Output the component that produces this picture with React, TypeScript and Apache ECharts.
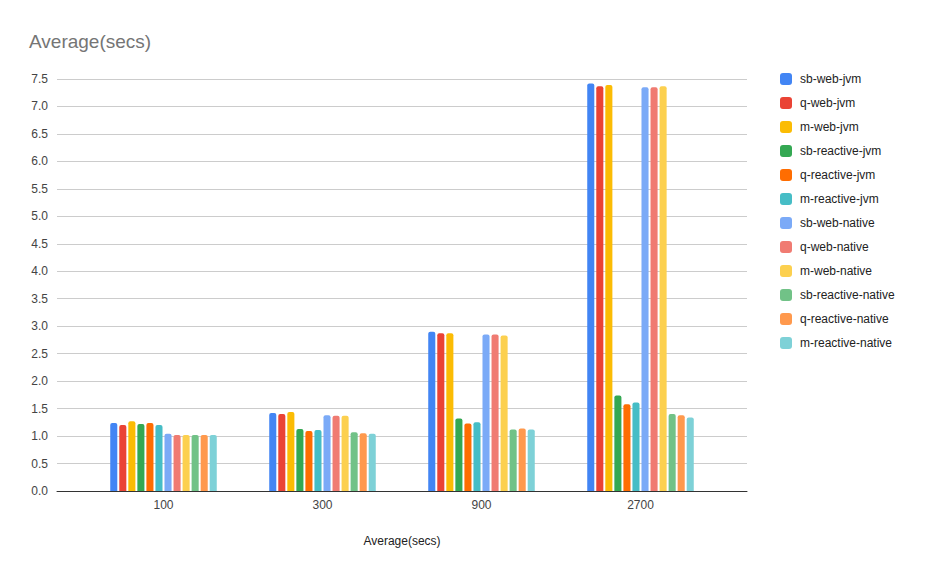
import React, { useEffect, useRef } from "react";
import * as echarts from "echarts";

const categories = ["100", "300", "900", "2700"];
const seriesNames = [
  "sb-web-jvm", "q-web-jvm", "m-web-jvm",
  "sb-reactive-jvm", "q-reactive-jvm", "m-reactive-jvm",
  "sb-web-native", "q-web-native", "m-web-native",
  "sb-reactive-native", "q-reactive-native", "m-reactive-native",
];
const colors = [
  "#4285F4", "#EA4335", "#FBBC04", "#34A853", "#FF6D01", "#46BDC6",
  "#7BAAF7", "#F07B72", "#FCD04F", "#71C287", "#FF994D", "#7ED1D7",
];
const sbWebJvm = [1.24, 1.42, 2.9, 7.42];
const qWebJvm = [1.2, 1.4, 2.87, 7.37];
const mWebJvm = [1.27, 1.44, 2.87, 7.39];
const sbReactiveJvm = [1.22, 1.13, 1.32, 1.74];
const qReactiveJvm = [1.24, 1.09, 1.23, 1.58];
const mReactiveJvm = [1.2, 1.11, 1.25, 1.61];
const sbWebNative = [1.04, 1.38, 2.85, 7.35];
const qWebNative = [1.02, 1.37, 2.85, 7.35];
const mWebNative = [1.02, 1.37, 2.83, 7.37];
const sbReactiveNative = [1.02, 1.07, 1.12, 1.4];
const qReactiveNative = [1.02, 1.05, 1.14, 1.38];
const mReactiveNative = [1.02, 1.04, 1.12, 1.34];
const seriesValues = [
  sbWebJvm, qWebJvm, mWebJvm, sbReactiveJvm, qReactiveJvm, mReactiveJvm,
  sbWebNative, qWebNative, mWebNative, sbReactiveNative, qReactiveNative, mReactiveNative,
];

const FONT = "Arial, 'Liberation Sans', sans-serif";

export default function App() {
  const ref = useRef<HTMLDivElement>(null);
  useEffect(() => {
    if (!ref.current) return;
    const chart = echarts.init(ref.current, null, { renderer: "svg" });
    chart.setOption({
      animation: false,
      backgroundColor: "#ffffff",
      color: colors,
      title: {
        text: "Average(secs)",
        left: 24,
        top: 27,
        textStyle: { fontFamily: FONT, fontSize: 19, fontWeight: "normal", color: "#757575" },
      },
      legend: {
        orient: "vertical",
        left: 775,
        top: 68,
        itemWidth: 12,
        itemHeight: 12,
        itemGap: 12,
        icon: "roundRect",
        textStyle: { fontFamily: FONT, fontSize: 12, color: "#222222", padding: [0, 0, 0, 3] },
        data: seriesNames,
      },
      grid: [
        { left: 57, right: 178, top: 79, bottom: 81, containLabel: false },
        { left: 84, right: 205, top: 79, bottom: 81, containLabel: false },
      ],
      xAxis: [
        {
          gridIndex: 0,
          type: "value",
          min: 0,
          max: 1,
          name: "Average(secs)",
          nameLocation: "middle",
          nameGap: 44,
          nameTextStyle: { fontFamily: FONT, fontSize: 12, color: "#222222" },
          axisTick: { show: false },
          axisLabel: { show: false },
          splitLine: { show: false },
          axisLine: { show: true, onZero: false, lineStyle: { color: "#333333", width: 1 } },
        },
        {
          gridIndex: 1,
          type: "category",
          data: categories,
          axisTick: { show: false },
          axisLine: { show: false },
          axisLabel: { fontFamily: FONT, fontSize: 12, color: "#444444", margin: 8 },
        },
      ],
      yAxis: [
        {
          gridIndex: 0,
          type: "value",
          min: 0,
          max: 7.5,
          interval: 0.5,
          axisLine: { show: false },
          axisTick: { show: false },
          splitLine: { lineStyle: { color: "#cccccc", width: 1 } },
          axisLabel: {
            fontFamily: FONT,
            fontSize: 12,
            color: "#444444",
            margin: 9,
            formatter: (v: number) => v.toFixed(1),
          },
        },
        {
          gridIndex: 1,
          type: "value",
          min: 0,
          max: 7.5,
          interval: 0.5,
          show: false,
          splitLine: { show: false },
        },
      ],
      series: seriesNames.map((name, i) => ({
        name,
        type: "bar",
        xAxisIndex: 1,
        yAxisIndex: 1,
        data: seriesValues[i],
        barGap: "28%",
        barCategoryGap: "33%",
        itemStyle: { color: colors[i], borderRadius: [2, 2, 0, 0] },
      })),
    });
    return () => chart.dispose();
  }, []);
  return (
    <div
      ref={ref}
      style={{ position: "absolute", left: 0, top: 0, width: 925, height: 572 }}
    />
  );
}
